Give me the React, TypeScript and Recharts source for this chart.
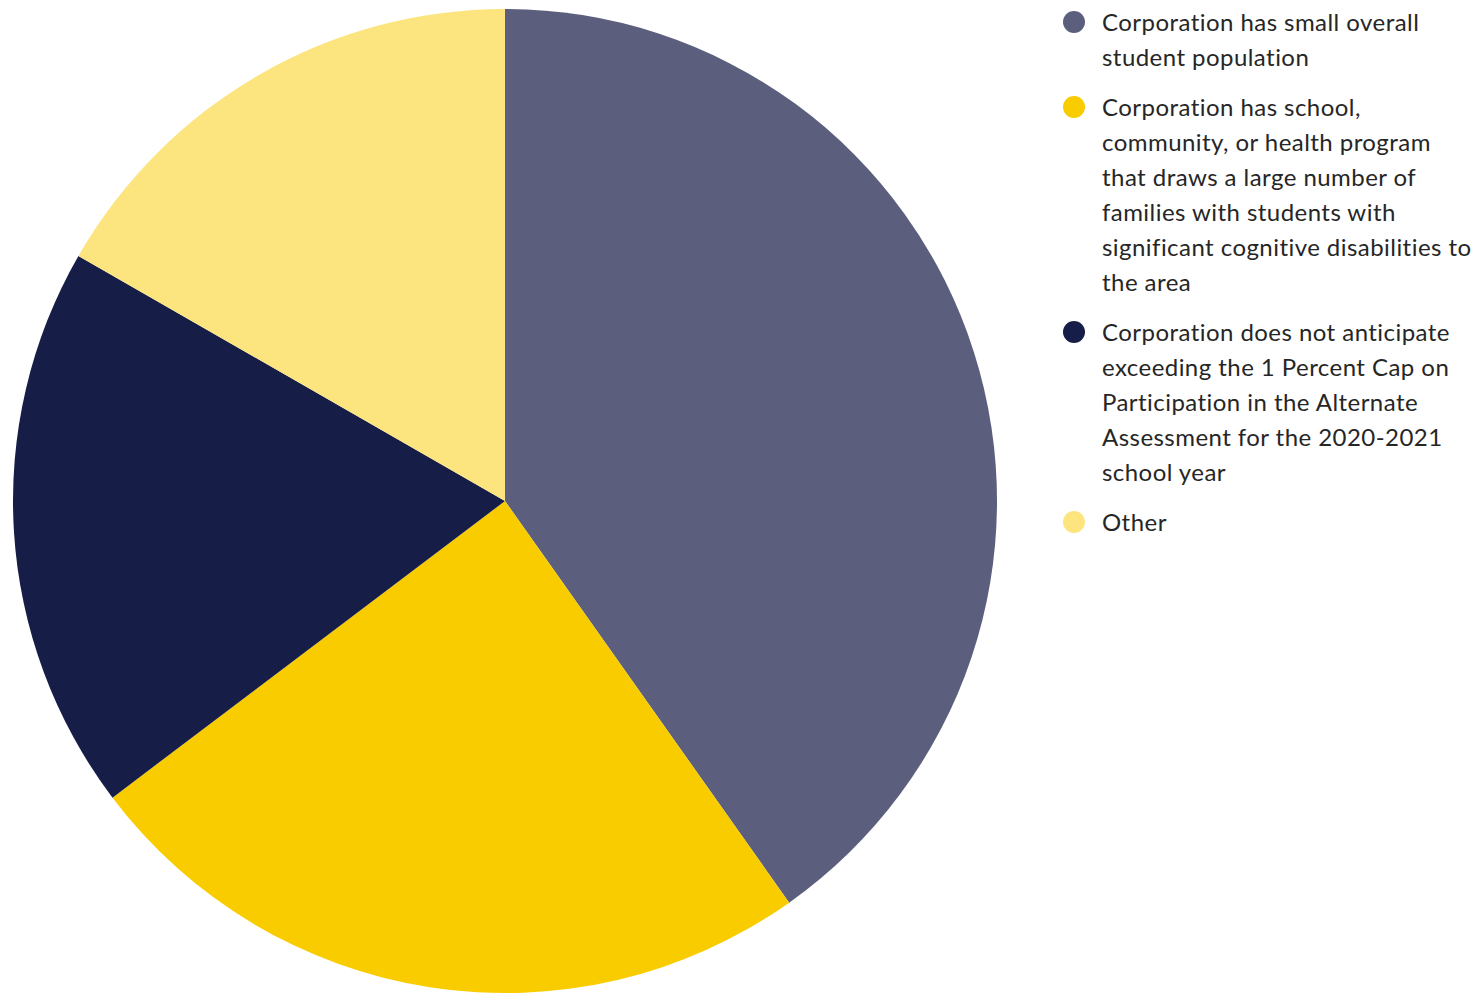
import { PieChart, Pie, Cell, Legend } from 'recharts';

const CATEGORIES = [
  'Corporation has small overall student population',
  'Corporation has school, community, or health program that draws a large number of families with students with significant cognitive disabilities to the area',
  'Corporation does not anticipate exceeding the 1 Percent Cap on Participation in the Alternate Assessment for the 2020-2021 school year',
  'Other',
];

// legend wraps the same way the original does
const LEGEND_LINES = [
  ['Corporation has small overall', 'student population'],
  [
    'Corporation has school,',
    'community, or health program',
    'that draws a large number of',
    'families with students with',
    'significant cognitive disabilities to',
    'the area',
  ],
  [
    'Corporation does not anticipate',
    'exceeding the 1 Percent Cap on',
    'Participation in the Alternate',
    'Assessment for the 2020-2021',
    'school year',
  ],
  ['Other'],
];

const SHARES = [40.2, 24.5, 18.6, 16.7];

const COLORS = ['#5b5f7d', '#f9cc00', '#161d46', '#fce47f'];

const data = CATEGORIES.map((name, i) => ({ name, value: SHARES[i] }));

function LegendBox() {
  return (
    <div style={{ fontFamily: 'Lato, sans-serif', fontSize: 24, letterSpacing: 0.45, color: '#262626' }}>
      {LEGEND_LINES.map((lines, i) => (
        <div key={i} style={{ display: 'flex', alignItems: 'flex-start', marginBottom: 15 }}>
          <span
            style={{
              width: 22,
              height: 22,
              borderRadius: '50%',
              background: COLORS[i],
              marginTop: 6.5,
              marginRight: 17,
              flexShrink: 0,
            }}
          />
          <div style={{ lineHeight: '35px' }}>
            {lines.map((l) => (
              <div key={l} style={{ whiteSpace: 'nowrap' }}>{l}</div>
            ))}
          </div>
        </div>
      ))}
    </div>
  );
}

export default function App() {
  return (
    <div style={{ position: 'absolute', left: 0, top: 0, width: 1480, height: 994, background: '#fff' }}>
      <PieChart width={1480} height={994} margin={{ top: 0, right: 0, bottom: 0, left: 0 }}>
        <Pie
          data={data}
          dataKey="value"
          nameKey="name"
          cx={505}
          cy={501}
          outerRadius={492}
          startAngle={90}
          endAngle={-270}
          stroke="none"
          isAnimationActive={false}
        >
          {data.map((d, i) => (
            <Cell key={d.name} fill={COLORS[i]} />
          ))}
        </Pie>
        <Legend
          layout="vertical"
          verticalAlign="top"
          align="right"
          wrapperStyle={{ left: 1063, top: 4, width: 417 }}
          content={() => <LegendBox />}
        />
      </PieChart>
    </div>
  );
}
